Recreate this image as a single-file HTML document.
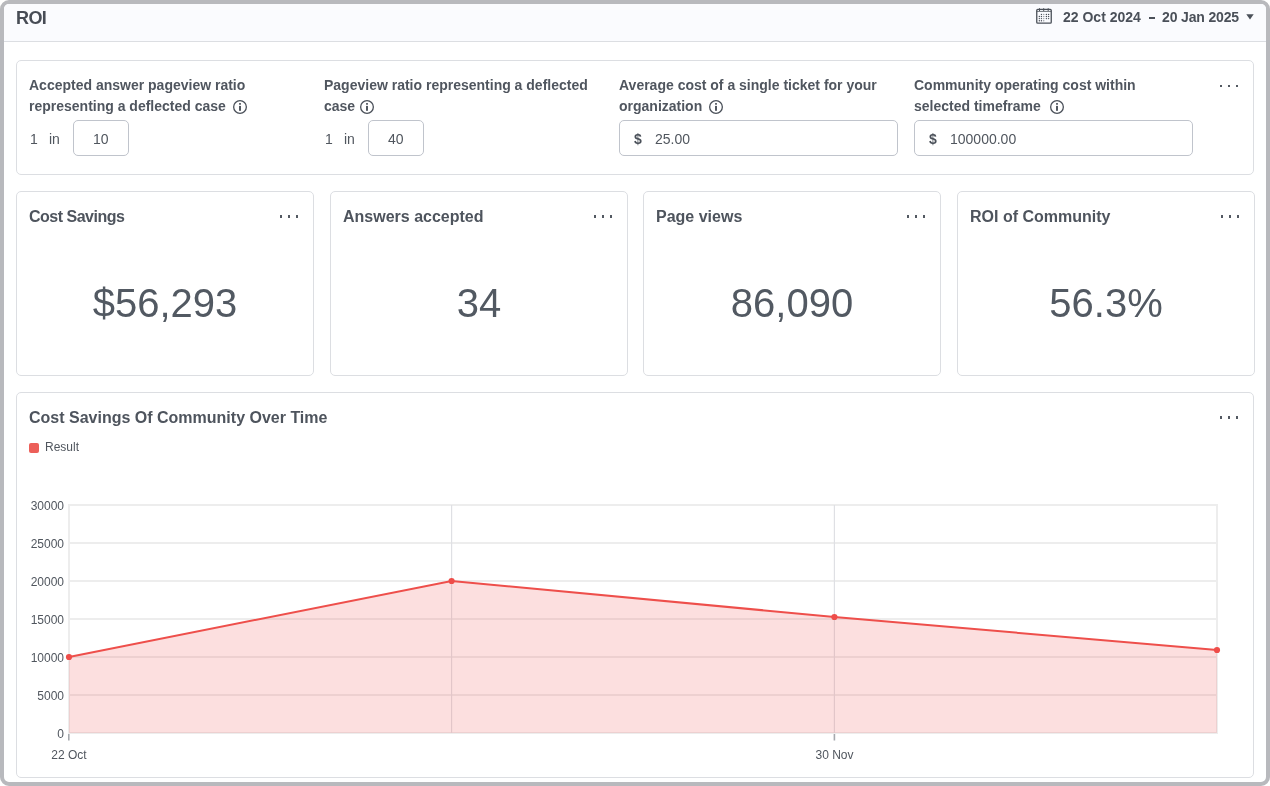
<!DOCTYPE html>
<html><head><meta charset="utf-8">
<style>
*{box-sizing:border-box;margin:0;padding:0}
html,body{width:1270px;height:786px;overflow:hidden;background:#fff;font-family:"Liberation Sans",sans-serif;color:#4a5059}
.frame{position:absolute;left:0;top:0;width:1270px;height:786px;border:4px solid #b8b9bd;border-radius:9px}
.hdr{position:absolute;left:4px;top:4px;width:1262px;height:38px;background:#fafbfe;border-bottom:1px solid #dcdee2;border-radius:5px 5px 0 0}
.abs{position:absolute;white-space:nowrap}
.card{position:absolute;border:1px solid #dcdee2;border-radius:5px;background:#fff}
.lbl{position:absolute;font-size:14px;font-weight:700;line-height:21px;color:#50565f;white-space:nowrap}
.ttl{position:absolute;font-size:16px;font-weight:700;line-height:20px;margin-top:1px;color:#4e545d;white-space:nowrap}
.val{position:absolute;font-size:40px;line-height:46px;color:#525962;white-space:nowrap;text-align:center}
.inp{position:absolute;border:1px solid #c0c4cc;border-radius:5px;background:#fff;height:36px}
.txt{position:absolute;font-size:14px;line-height:16px;color:#50565e;white-space:nowrap}
.dots{position:absolute;width:18px;height:2px}
.dots i{position:absolute;top:0;width:2px;height:2.6px;background:#535962}
.dots i:nth-child(1){left:0}.dots i:nth-child(2){left:8px}.dots i:nth-child(3){left:16px}
.info{position:absolute;width:13px;height:13px;border:1.2px solid #4a5059;border-radius:50%}
.info:before{content:"";position:absolute;left:4.6px;top:2.2px;width:1.6px;height:1.6px;background:#4a5059;border-radius:1px}
.info:after{content:"";position:absolute;left:4.6px;top:4.8px;width:1.6px;height:4.6px;background:#4a5059}
</style></head><body><div style="position:absolute;left:0;top:0;width:1270px;height:786px;will-change:transform">
<div class="frame"></div>
<div class="hdr"></div>
<div class="abs" style="left:16px;top:7px;font-size:18px;font-weight:700;line-height:22px;letter-spacing:-0.6px;color:#474c55">ROI</div>

<!-- date picker -->
<svg class="abs" style="left:1035px;top:8px" width="18" height="17" viewBox="0 0 18 17"><rect x="1.75" y="1.45" width="14.5" height="13.75" rx="1" fill="none" stroke="#4a5059" stroke-width="1.3"/><line x1="1.75" y1="3.4" x2="16.25" y2="3.4" stroke="#4a5059" stroke-width="0.8"/><g stroke="#4a5059" stroke-width="1"><line x1="4.5" y1="0.2" x2="4.5" y2="3"/><line x1="8.7" y1="0.2" x2="8.7" y2="3"/><line x1="13.2" y1="0.2" x2="13.2" y2="3"/></g><g fill="#4a5059"><circle cx="6.45" cy="6.40" r="0.7"/><circle opacity="0.55" cx="8.74" cy="6.40" r="0.7"/><circle cx="11.40" cy="6.40" r="0.7"/><circle cx="13.60" cy="6.40" r="0.7"/><circle cx="4.35" cy="8.50" r="0.7"/><circle cx="6.45" cy="8.50" r="0.7"/><circle opacity="0.55" cx="8.74" cy="8.50" r="0.7"/><circle cx="11.40" cy="8.50" r="0.7"/><circle cx="13.60" cy="8.50" r="0.7"/><circle cx="4.35" cy="10.60" r="0.7"/><circle cx="6.45" cy="10.60" r="0.7"/><circle opacity="0.55" cx="8.74" cy="10.60" r="0.7"/><circle cx="11.40" cy="10.60" r="0.7"/><circle cx="13.60" cy="10.60" r="0.7"/><circle cx="4.35" cy="12.80" r="0.7"/><circle cx="6.45" cy="12.80" r="0.7"/><circle opacity="0.55" cx="8.74" cy="12.80" r="0.7"/></g></svg>
<div class="abs" style="left:1063px;top:9px;font-size:14px;font-weight:700;line-height:16px;color:#4a5059">22 Oct 2024</div>
<div class="abs" style="left:1149px;top:17px;width:6px;height:1.5px;background:#4a5059"></div>
<div class="abs" style="left:1162px;top:9px;font-size:14px;font-weight:700;line-height:16px;letter-spacing:-0.15px;color:#4a5059">20 Jan 2025</div>
<svg class="abs" style="left:1246px;top:14px" width="8" height="6" viewBox="0 0 8 6"><path d="M0.3 0.2H7.7L4 5.4Z" fill="#4a5059"/></svg>

<!-- filter card -->
<div class="card" style="left:16px;top:60px;width:1238px;height:115px"></div>
<div class="lbl" style="left:29px;top:75px">Accepted answer pageview ratio<br>representing a deflected case</div>
<svg class="abs" style="left:233px;top:100px" width="14" height="14" viewBox="0 0 14 14"><circle cx="7" cy="7" r="6.35" fill="none" stroke="#4a5059" stroke-width="1.3"/><rect x="6.05" y="5.9" width="1.9" height="4.9" fill="#4a5059"/><rect x="6.05" y="3.1" width="1.9" height="1.6" fill="#4a5059"/></svg>
<div class="txt" style="left:30px;top:131px">1</div>
<div class="txt" style="left:49px;top:131px">in</div>
<div class="inp" style="left:73px;top:120px;width:56px"></div>
<div class="txt" style="left:93px;top:131px">10</div>

<div class="lbl" style="left:324px;top:75px">Pageview ratio representing a deflected<br>case</div>
<svg class="abs" style="left:360px;top:100px" width="14" height="14" viewBox="0 0 14 14"><circle cx="7" cy="7" r="6.35" fill="none" stroke="#4a5059" stroke-width="1.3"/><rect x="6.05" y="5.9" width="1.9" height="4.9" fill="#4a5059"/><rect x="6.05" y="3.1" width="1.9" height="1.6" fill="#4a5059"/></svg>
<div class="txt" style="left:325px;top:131px">1</div>
<div class="txt" style="left:344px;top:131px">in</div>
<div class="inp" style="left:368px;top:120px;width:56px"></div>
<div class="txt" style="left:388px;top:131px">40</div>

<div class="lbl" style="left:619px;top:75px">Average cost of a single ticket for your<br>organization</div>
<svg class="abs" style="left:709px;top:100px" width="14" height="14" viewBox="0 0 14 14"><circle cx="7" cy="7" r="6.35" fill="none" stroke="#4a5059" stroke-width="1.3"/><rect x="6.05" y="5.9" width="1.9" height="4.9" fill="#4a5059"/><rect x="6.05" y="3.1" width="1.9" height="1.6" fill="#4a5059"/></svg>
<div class="inp" style="left:619px;top:120px;width:279px"></div>
<div class="txt" style="left:634px;top:131px;font-weight:700;color:#4a5059">$</div>
<div class="txt" style="left:655px;top:131px">25.00</div>

<div class="lbl" style="left:914px;top:75px">Community operating cost within<br>selected timeframe</div>
<svg class="abs" style="left:1050px;top:100px" width="14" height="14" viewBox="0 0 14 14"><circle cx="7" cy="7" r="6.35" fill="none" stroke="#4a5059" stroke-width="1.3"/><rect x="6.05" y="5.9" width="1.9" height="4.9" fill="#4a5059"/><rect x="6.05" y="3.1" width="1.9" height="1.6" fill="#4a5059"/></svg>
<div class="inp" style="left:914px;top:120px;width:279px"></div>
<div class="txt" style="left:929px;top:131px;font-weight:700;color:#4a5059">$</div>
<div class="txt" style="left:950px;top:131px">100000.00</div>
<div class="dots" style="left:1220px;top:84.5px"><i></i><i></i><i></i></div>

<!-- KPI cards -->
<div class="card" style="left:16px;top:191px;width:298px;height:185px"></div>
<div class="ttl" style="left:29px;top:206px;letter-spacing:-0.5px">Cost Savings</div>
<div class="dots" style="left:280px;top:215px"><i></i><i></i><i></i></div>
<div class="val" style="left:16px;top:280px;width:298px">$56,293</div>

<div class="card" style="left:330px;top:191px;width:298px;height:185px"></div>
<div class="ttl" style="left:343px;top:206px">Answers accepted</div>
<div class="dots" style="left:594px;top:215px"><i></i><i></i><i></i></div>
<div class="val" style="left:330px;top:280px;width:298px">34</div>

<div class="card" style="left:643px;top:191px;width:298px;height:185px"></div>
<div class="ttl" style="left:656px;top:206px">Page views</div>
<div class="dots" style="left:907px;top:215px"><i></i><i></i><i></i></div>
<div class="val" style="left:643px;top:280px;width:298px">86,090</div>

<div class="card" style="left:957px;top:191px;width:298px;height:185px"></div>
<div class="ttl" style="left:970px;top:206px">ROI of Community</div>
<div class="dots" style="left:1221px;top:215px"><i></i><i></i><i></i></div>
<div class="val" style="left:957px;top:280px;width:298px">56.3%</div>

<!-- chart card -->
<div class="card" style="left:16px;top:392px;width:1238px;height:386px"></div>
<div class="ttl" style="left:29px;top:407px">Cost Savings Of Community Over Time</div>
<div class="dots" style="left:1220px;top:416px"><i></i><i></i><i></i></div>
<div class="abs" style="left:29px;top:443px;width:10px;height:10px;background:#ec5f59;border-radius:2px"></div>
<div class="abs" style="left:45px;top:440px;font-size:12px;line-height:14px;color:#50565e">Result</div>

<svg class="abs" style="left:0;top:0" width="1270" height="786" viewBox="0 0 1270 786">
  
  <g stroke="#ededed" stroke-width="2" fill="none"><line x1="68" y1="505" x2="1218" y2="505"/><line x1="68" y1="543" x2="1218" y2="543"/><line x1="68" y1="581" x2="1218" y2="581"/><line x1="68" y1="619" x2="1218" y2="619"/><line x1="68" y1="657" x2="1218" y2="657"/><line x1="68" y1="695" x2="1218" y2="695"/><line x1="68" y1="733" x2="1218" y2="733"/>
    <line x1="69" y1="504" x2="69" y2="734"/>
    <line x1="1217" y1="504" x2="1217" y2="734"/>
  </g>
  <g stroke="#dfe0e4" stroke-width="1.2">
    <line x1="451.6" y1="505" x2="451.6" y2="733"/>
    <line x1="834.4" y1="505" x2="834.4" y2="733"/>
  </g>
  <path d="M69 657 L451.6 581 L834.4 617 L1217 650 L1217 733 L69 733 Z" fill="rgb(240,95,95)" fill-opacity="0.2"/>
  <path d="M69 657 L451.6 581 L834.4 617 L1217 650" fill="none" stroke="#ee4f4b" stroke-width="2"/>
  <g fill="#ee4d49">
    <circle cx="69" cy="657" r="3.1"/><circle cx="451.6" cy="581" r="3.1"/><circle cx="834.4" cy="617" r="3.1"/><circle cx="1217" cy="650" r="3.1"/>
  </g>
  <g stroke="#a6a9ae" stroke-width="1.6">
    <line x1="68.8" y1="734" x2="68.8" y2="740.5"/>
    <line x1="834.4" y1="734" x2="834.4" y2="740.5"/>
  </g>
  <g font-family="Liberation Sans" font-size="12" fill="#50565e" text-anchor="end">
    <text x="64" y="509.5">30000</text>
    <text x="64" y="547.5">25000</text>
    <text x="64" y="585.5">20000</text>
    <text x="64" y="623.5">15000</text>
    <text x="64" y="661.5">10000</text>
    <text x="64" y="699.5">5000</text>
    <text x="64" y="737.5">0</text>
  </g>
  <g font-family="Liberation Sans" font-size="12" fill="#50565e" text-anchor="middle">
    <text x="69" y="759">22 Oct</text>
    <text x="834.5" y="759">30 Nov</text>
  </g>
</svg>
</div></body></html>
